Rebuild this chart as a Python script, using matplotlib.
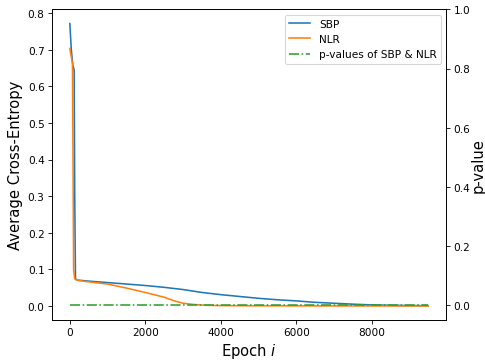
import matplotlib
matplotlib.use("Agg")
import matplotlib.pyplot as plt

sbp_epochs = [0, 40, 80, 115, 130, 150, 180, 500, 1000, 1500, 2000, 2500, 3000, 3500, 4000, 4500, 5000, 5500, 6000, 6500, 7000, 7500, 8000, 8500, 9000, 9500]
sbp_loss = [0.772, 0.70, 0.658, 0.645, 0.30, 0.076, 0.071, 0.068, 0.064, 0.060, 0.056, 0.051, 0.045, 0.037, 0.031, 0.026, 0.021, 0.017, 0.014, 0.010, 0.0075, 0.005, 0.003, 0.002, 0.0012, 0.001]

nlr_epochs = [0, 40, 70, 85, 100, 130, 200, 500, 1000, 1500, 2000, 2500, 2800, 3000, 3300, 3600, 4000, 5000, 6000, 7000, 8000, 9000, 9500]
nlr_loss = [0.704, 0.68, 0.663, 0.40, 0.10, 0.074, 0.070, 0.066, 0.060, 0.049, 0.037, 0.024, 0.013, 0.0075, 0.004, 0.002, 0.001, 0.0005, 0.0003, 0.0002, 0.0001, 0.0001, 0.0001]

p_epochs = [0, 9500]
p_values = [0.0, 0.0]

fig = plt.figure(figsize=(6.4, 4.8), dpi=485/6.4)
ax = fig.add_axes([0.107, 0.118, 0.813, 0.854])
l1, = ax.plot(sbp_epochs, sbp_loss, color="#1f77b4", label="SBP")
l2, = ax.plot(nlr_epochs, nlr_loss, color="#ff7f0e", label="NLR")
ax.set_xlabel("Epoch $i$", fontsize=14)
ax.set_ylabel("Average Cross-Entropy", fontsize=14)
ax.set_xticks([0, 2000, 4000, 6000, 8000])
ax.set_yticks([0.0, 0.1, 0.2, 0.3, 0.4, 0.5, 0.6, 0.7, 0.8])

ax2 = ax.twinx()
l3, = ax2.plot(p_epochs, p_values, color="#2ca02c", linestyle="-.", label="p-values of SBP & NLR")
ax2.set_ylim(-0.05, 1.0)
ax2.set_yticks([0.0, 0.2, 0.4, 0.6, 0.8, 1.0])
ax2.set_ylabel("p-value", fontsize=14, labelpad=0)

ax.legend(handles=[l1, l2, l3], loc="upper right", fontsize=10)
fig.savefig("out.png", dpi=485/6.4)
